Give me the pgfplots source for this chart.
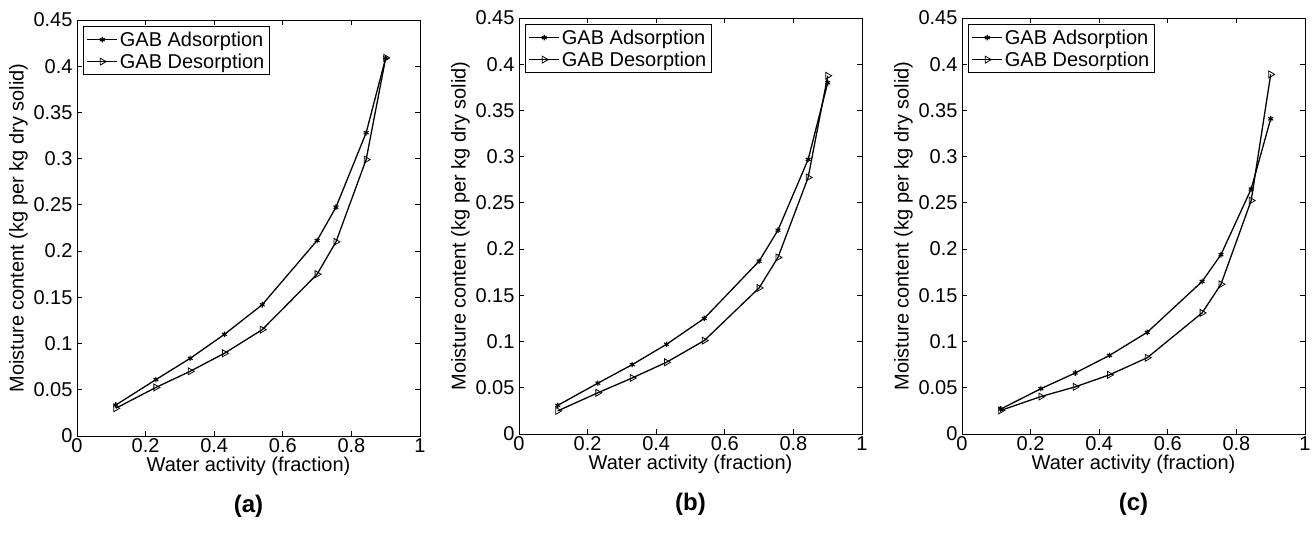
\documentclass[border=0pt]{standalone}
\usepackage{pgfplots}
\pgfplotsset{compat=1.18}
\usepackage{fontspec}
\setmainfont{Liberation Sans}
\begin{document}
\begin{tikzpicture}
\useasboundingbox (0pt,0pt) rectangle (1314pt,534pt);
\pgfplotsset{
  panel/.style={
    scale only axis,
    width=343pt, height=416pt,
    anchor=south west,
    xmin=0, xmax=1, ymin=0, ymax=0.45,
    xtick={0,0.2,0.4,0.6,0.8,1},
    xticklabels={0,0.2,0.4,0.6,0.8,1},
    ytick={0,0.05,0.1,0.15,0.2,0.25,0.3,0.35,0.4,0.45},
    yticklabels={0,0.05,0.1,0.15,0.2,0.25,0.3,0.35,0.4,0.45},
    tick align=inside,
    major tick length=5pt,
    tick style={black, line width=0.8pt},
    axis line style={line width=0.9pt},
    ticklabel style={font=\fontsize{20}{22}\selectfont},
    xticklabel style={yshift=1pt},
    yticklabel style={xshift=-1pt},
    xlabel={Water activity (fraction)},
    ylabel={Moisture content (kg per kg dry solid)},
    label style={font=\fontsize{20}{22}\selectfont},
    xlabel style={yshift=3pt},
    ylabel style={yshift=-1pt},
    legend style={at={(0.018,0.985)}, anchor=north west, draw=black, line width=0.8pt,
      font=\fontsize{20}{22}\selectfont, inner xsep=3pt, inner ysep=3pt, row sep=2pt,
      legend cell align=left},
    legend image code/.code={\draw[mark repeat=2,mark phase=2] plot coordinates {(0pt,0pt) (15pt,0pt) (30pt,0pt)};},
    title style={at={(0.5,-0.183)}, anchor=center, font=\bfseries\fontsize{24}{26}\selectfont},
  },
  ads/.style={black, line width=1.3pt, mark=asterisk, mark size=2.8pt, mark options={line width=1.1pt}},
  des/.style={black, line width=1.3pt, mark=triangle, mark size=4pt, mark options={rotate=-90, line width=0.8pt, fill=white}},
}
% Panel (a)
\begin{axis}[panel, at={(77pt,98pt)}, title={(a)}]
\addplot[ads] coordinates {(0.113,0.0335) (0.23,0.061) (0.33,0.084) (0.43,0.110) (0.54,0.142) (0.70,0.2115) (0.755,0.2475) (0.843,0.328) (0.90,0.409)};
\addplot[des] coordinates {(0.113,0.030) (0.23,0.0525) (0.33,0.070) (0.43,0.0895) (0.54,0.115) (0.70,0.175) (0.755,0.210) (0.843,0.299) (0.90,0.409)};
\legend{GAB Adsorption, GAB Desorption}
\end{axis}
% Panel (b)
\begin{axis}[panel, at={(519pt,100pt)}, title={(b)}]
\addplot[ads] coordinates {(0.113,0.031) (0.23,0.055) (0.33,0.075) (0.43,0.097) (0.54,0.125) (0.70,0.187) (0.755,0.2205) (0.843,0.297) (0.90,0.380)};
\addplot[des] coordinates {(0.113,0.025) (0.23,0.0446) (0.33,0.0606) (0.43,0.0776) (0.54,0.101) (0.70,0.158) (0.755,0.191) (0.843,0.2775) (0.90,0.3875)};
\legend{GAB Adsorption, GAB Desorption}
\end{axis}
% Panel (c)
\begin{axis}[panel, at={(962pt,100pt)}, title={(c)}]
\addplot[ads] coordinates {(0.113,0.027) (0.23,0.049) (0.33,0.066) (0.43,0.085) (0.54,0.110) (0.70,0.165) (0.755,0.194) (0.843,0.265) (0.90,0.341)};
\addplot[des] coordinates {(0.113,0.0255) (0.23,0.0405) (0.33,0.051) (0.43,0.064) (0.54,0.0825) (0.70,0.131) (0.755,0.162) (0.843,0.2525) (0.90,0.389)};
\legend{GAB Adsorption, GAB Desorption}
\end{axis}
\end{tikzpicture}
\end{document}
